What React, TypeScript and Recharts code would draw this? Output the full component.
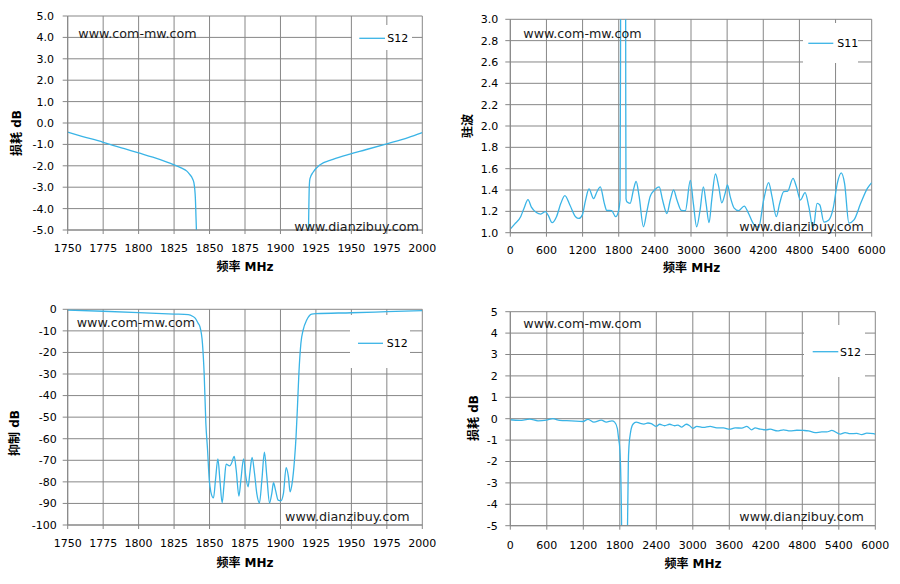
import React from 'react';
import { LineChart, Line, XAxis, YAxis, CartesianGrid, Legend } from 'recharts';

const FONT = '"DejaVu Sans", "Noto Sans CJK SC", sans-serif';
const LINE_COLOR = '#3AB4E6';
const GRID_COLOR = '#878787';

// ---- tick sets ----
const narrowTicksX = [1750, 1775, 1800, 1825, 1850, 1875, 1900, 1925, 1950, 1975, 2000];
const wideTicksX = [0, 600, 1200, 1800, 2400, 3000, 3600, 4200, 4800, 5400, 6000];
const lossTicksY = [-5, -4, -3, -2, -1, 0, 1, 2, 3, 4, 5];
const vswrTicksY = [1.0, 1.2, 1.4, 1.6, 1.8, 2.0, 2.2, 2.4, 2.6, 2.8, 3.0];
const rejTicksY = [-100, -90, -80, -70, -60, -50, -40, -30, -20, -10, 0];

// ---- chart 1: S12 insertion loss, 1750-2000 MHz ----
const nbFreq = [
  1750, 1760, 1775, 1790, 1800, 1810, 1820, 1825, 1830, 1834,
  1836, 1838, 1839, 1840, 1840.5, 1841, 1842, 1880, 1919, 1919.7,
  1920, 1920.3, 1920.8, 1923, 1927.7, 1937, 1949, 1960, 1975, 1990,
  2000,
];
const nbLoss = [
  -0.43, -0.62, -0.9, -1.2, -1.4, -1.6, -1.83, -1.96, -2.1, -2.25,
  -2.4, -2.6, -2.8, -3.5, -4.5, -5.5, -7, null, -7, -5.2,
  -4.0, -3.0, -2.6, -2.3, -1.96, -1.7, -1.45, -1.25, -0.97, -0.68,
  -0.45,
];

// ---- chart 2: S11 VSWR, 0-6000 MHz ----
const vswrFreq = [
  0, 72, 172, 228, 294, 350, 433, 506, 583, 628,
  694, 767, 839, 906, 989, 1083, 1139, 1194, 1250, 1306,
  1383, 1439, 1494, 1561, 1600, 1683, 1750, 1794, 1822, 1830,
  1835, 1875, 1912, 1917, 1921, 1935, 1989, 2044, 2089, 2139,
  2211, 2267, 2322, 2394, 2472, 2528, 2600, 2656, 2711, 2767,
  2839, 2906, 2989, 3039, 3094, 3150, 3206, 3250, 3300, 3344,
  3406, 3461, 3511, 3567, 3606, 3650, 3717, 3789, 3883, 3956,
  4039, 4122, 4206, 4289, 4344, 4417, 4472, 4539, 4606, 4694,
  4750, 4817, 4894, 4956, 5028, 5094, 5139, 5206, 5289, 5361,
  5428, 5494, 5550, 5622, 5706, 5817, 5928, 6000,
];
const vswrValue = [
  1.034, 1.08, 1.15, 1.23, 1.31, 1.24, 1.19, 1.175, 1.197, 1.165,
  1.094, 1.15, 1.275, 1.347, 1.26, 1.15, 1.134, 1.165, 1.306, 1.41,
  1.32, 1.384, 1.43, 1.275, 1.21, 1.206, 1.15, 1.197, 1.306, 2.6,
  4.5, null, 4.5, 2.2, 1.32, 1.29, 1.275, 1.4, 1.48, 1.34,
  1.056, 1.197, 1.34, 1.4, 1.43, 1.306, 1.18, 1.306, 1.4, 1.306,
  1.21, 1.206, 1.49, 1.275, 1.056, 1.21, 1.43, 1.275, 1.094, 1.306,
  1.55, 1.43, 1.28, 1.37, 1.447, 1.34, 1.23, 1.206, 1.25, 1.18,
  1.08, 1.05, 1.306, 1.47, 1.34, 1.15, 1.275, 1.384, 1.39, 1.51,
  1.43, 1.306, 1.375, 1.244, 1.04, 1.275, 1.26, 1.1, 1.12, 1.23,
  1.46, 1.56, 1.46, 1.09, 1.12, 1.275, 1.415, 1.47,
];

// ---- chart 3: S12 rejection, 1750-2000 MHz ----
const rejFreq = [
  1750, 1775, 1800, 1825, 1835, 1838, 1840, 1842, 1843.2, 1845,
  1846.2, 1847.4, 1848.6, 1849.8, 1850.9, 1852.8, 1854.2, 1855.9, 1857.3, 1858.9,
  1860.3, 1861.7, 1864.1, 1865.5, 1867.4, 1868.8, 1870.7, 1872.1, 1874, 1875.6,
  1877.2, 1878.4, 1880, 1881.7, 1883.3, 1885.2, 1886.9, 1888.7, 1890.4, 1892.3,
  1893.9, 1895.1, 1896.5, 1898.4, 1900.2, 1902.1, 1904, 1905.6, 1906.8, 1908.2,
  1909.9, 1911, 1912, 1913, 1914.4, 1916, 1918.5, 1922, 1925, 1950,
  1975, 2000,
];
const rejValue = [
  -0.4, -0.9, -1.5, -2.2, -2.5, -3.2, -4.2, -6.5, -8, -15.8,
  -29.7, -52.8, -65.1, -79.1, -84.6, -87.4, -79.1, -69.3, -79.1, -89.7,
  -80.7, -71.8, -72.6, -71.4, -68.2, -74.5, -86.6, -79.1, -69.3, -77.6,
  -82.3, -76, -68.7, -76, -85.3, -89.7, -79.1, -66.2, -77.6, -89.7,
  -85.3, -80.4, -83.8, -88.5, -88.8, -85.3, -73.4, -77.6, -84.6, -80.7,
  -69.8, -58.9, -45, -29.7, -15.8, -9.6, -5, -2.2, -2.0, -1.6,
  -1.1, -0.6,
];

// ---- chart 4: S12 insertion loss, 0-6000 MHz ----
const wbFreq = [
  0, 153, 318, 455, 592, 701, 811, 1003, 1195, 1277,
  1375, 1496, 1578, 1671, 1715, 1760, 1781, 1797, 1815, 1831,
  1835, 1878, 1920, 1926, 1940, 1951, 1978, 2016, 2071, 2126,
  2197, 2263, 2318, 2400, 2455, 2537, 2619, 2701, 2756, 2811,
  2893, 2948, 3000, 3066, 3175, 3285, 3395, 3504, 3603, 3696,
  3805, 3888, 3970, 4025, 4107, 4205, 4271, 4392, 4490, 4600,
  4710, 4819, 4901, 5011, 5121, 5203, 5285, 5422, 5504, 5586,
  5696, 5778, 5860, 5970, 6000,
];
const wbLoss = [
  -0.05, -0.08, -0.02, -0.1, -0.07, 0.0, -0.08, -0.1, -0.13, -0.03,
  -0.16, -0.07, -0.16, -0.1, -0.16, -0.46, -0.95, -1.3, -2.5, -5.5,
  -7, null, -7, -5.2, -2.1, -1.28, -0.62, -0.26, -0.16, -0.21,
  -0.25, -0.2, -0.23, -0.36, -0.26, -0.33, -0.26, -0.33, -0.3, -0.39,
  -0.26, -0.33, -0.45, -0.36, -0.41, -0.36, -0.43, -0.43, -0.49, -0.43,
  -0.44, -0.36, -0.52, -0.43, -0.49, -0.52, -0.49, -0.57, -0.52, -0.57,
  -0.54, -0.55, -0.57, -0.65, -0.62, -0.62, -0.55, -0.72, -0.65, -0.7,
  -0.69, -0.74, -0.67, -0.7, -0.72,
];

type Pt = { f: number; v: number | null };
const build = (fs: number[], vs: (number | null)[]): Pt[] => fs.map((f, i) => ({ f, v: vs[i] }));

const fmt1 = (v: number) => v.toFixed(1);
const fmt0 = (v: number) => String(Math.round(v));

type LegendBox = { x: number; y: number; w: number; h: number; lx1: number; lx2: number; ly: number; tx: number };

type PanelProps = {
  left: number;
  top: number;
  width: number;
  height: number;
  margin: { top: number; right: number; bottom: number; left: number };
  yWidth: number;
  xTickMargin: number;
  yTickMargin: number;
  xDomain: [number, number];
  xTicks: number[];
  yDomain: [number, number];
  yTicks: number[];
  yFmt: (v: number) => string;
  data: Pt[];
  name: string;
  legend: LegendBox;
};

function Panel(p: PanelProps) {
  const tickStyle = { fontSize: 11, fill: '#000', fontFamily: FONT };
  const lg = p.legend;
  return (
    <div style={{ position: 'absolute', left: p.left, top: p.top }}>
      <LineChart width={p.width} height={p.height} data={p.data} margin={p.margin}>
        <CartesianGrid stroke={GRID_COLOR} strokeWidth={1} />
        <XAxis
          dataKey="f"
          type="number"
          domain={p.xDomain}
          ticks={p.xTicks}
          interval={0}
          allowDataOverflow
          height={30}
          tick={tickStyle}
          tickSize={4}
          tickMargin={p.xTickMargin}
          tickLine={{ stroke: GRID_COLOR }}
          axisLine={{ stroke: GRID_COLOR }}
        />
        <YAxis
          type="number"
          domain={p.yDomain}
          ticks={p.yTicks}
          interval={0}
          allowDataOverflow
          width={p.yWidth}
          tick={tickStyle}
          tickSize={5}
          tickMargin={p.yTickMargin}
          tickFormatter={p.yFmt}
          tickLine={{ stroke: GRID_COLOR }}
          axisLine={{ stroke: GRID_COLOR }}
        />
        <Legend
          layout="vertical"
          align="center"
          verticalAlign="middle"
          wrapperStyle={{ left: lg.x, top: lg.y, width: lg.w, height: lg.h, background: '#fff' }}
          content={(props: any) => {
            const item = props.payload && props.payload[0];
            return (
              <svg width={lg.w} height={lg.h} style={{ display: 'block' }}>
                <line x1={lg.lx1} x2={lg.lx2} y1={lg.ly} y2={lg.ly} stroke={LINE_COLOR} strokeWidth={1.3} />
                <text x={lg.tx} y={lg.ly} dy="0.36em" fontSize={11} fontFamily={FONT} fill="#000">
                  {item ? item.value : p.name}
                </text>
              </svg>
            );
          }}
        />
        <Line
          type="monotone"
          dataKey="v"
          name={p.name}
          stroke={LINE_COLOR}
          strokeWidth={1.3}
          dot={false}
          activeDot={false}
          connectNulls={false}
          isAnimationActive={false}
        />
      </LineChart>
    </div>
  );
}

const titleStyle: React.CSSProperties = {
  position: 'absolute',
  fontFamily: FONT,
  fontWeight: 'bold',
  fontSize: 12,
  color: '#000',
  whiteSpace: 'nowrap',
  lineHeight: '14px',
};

function XTitle({ cx, cy, text }: { cx: number; cy: number; text: string }) {
  return <div style={{ ...titleStyle, left: cx, top: cy, transform: 'translate(-50%, -50%)' }}>{text}</div>;
}
function YTitle({ cx, cy, text }: { cx: number; cy: number; text: string }) {
  return (
    <div style={{ ...titleStyle, left: cx, top: cy, transform: 'translate(-50%, -50%) rotate(-90deg)' }}>{text}</div>
  );
}
function Mark({ x, y, text }: { x: number; y: number; text: string }) {
  return (
    <div
      style={{
        position: 'absolute',
        left: x,
        top: y,
        fontFamily: FONT,
        fontSize: 12.7,
        lineHeight: '15px',
        color: '#1a1a1a',
        whiteSpace: 'nowrap',
      }}
    >
      {text}
    </div>
  );
}

export default function App() {
  return (
    <div style={{ position: 'absolute', left: 0, top: 0, width: 900, height: 584, background: '#fff', overflow: 'hidden' }}>
      <Panel
        left={0}
        top={0}
        width={450}
        height={290}
        margin={{ top: 16, right: 27.7, bottom: 30, left: 0 }}
        yWidth={67.7}
        xTickMargin={10.5}
        yTickMargin={8.7}
        xDomain={[1750, 2000]}
        xTicks={narrowTicksX}
        yDomain={[-5, 5]}
        yTicks={lossTicksY}
        yFmt={fmt1}
        data={build(nbFreq, nbLoss)}
        name="S12"
        legend={{ x: 352, y: 25, w: 60, h: 25, lx1: 7.3, lx2: 33, ly: 13.3, tx: 35.3 }}
      />
      <Panel
        left={450}
        top={0}
        width={450}
        height={290}
        margin={{ top: 19.3, right: 28.3, bottom: 27.3, left: 0 }}
        yWidth={60.3}
        xTickMargin={9.5}
        yTickMargin={7}
        xDomain={[0, 6000]}
        xTicks={wideTicksX}
        yDomain={[1, 3]}
        yTicks={vswrTicksY}
        yFmt={fmt1}
        data={build(vswrFreq, vswrValue)}
        name="S11"
        legend={{ x: 353, y: 23, w: 55, h: 40, lx1: 5.3, lx2: 30.3, ly: 20.3, tx: 34.3 }}
      />
      <Panel
        left={0}
        top={290}
        width={450}
        height={294}
        margin={{ top: 19.3, right: 27.7, bottom: 29, left: 0 }}
        yWidth={67.7}
        xTickMargin={10.5}
        yTickMargin={6}
        xDomain={[1750, 2000]}
        xTicks={narrowTicksX}
        yDomain={[-100, 0]}
        yTicks={rejTicksY}
        yFmt={fmt0}
        data={build(rejFreq, rejValue)}
        name="S12"
        legend={{ x: 350, y: 25, w: 60, h: 53, lx1: 8, lx2: 33, ly: 28.3, tx: 36.7 }}
      />
      <Panel
        left={450}
        top={290}
        width={450}
        height={294}
        margin={{ top: 21.7, right: 24.7, bottom: 28.3, left: 0 }}
        yWidth={60.3}
        xTickMargin={11.5}
        yTickMargin={7.6}
        xDomain={[0, 6000]}
        xTicks={wideTicksX}
        yDomain={[-5, 5]}
        yTicks={lossTicksY}
        yFmt={fmt0}
        data={build(wbFreq, wbLoss)}
        name="S12"
        legend={{ x: 354, y: 35, w: 61, h: 52, lx1: 8.7, lx2: 34.3, ly: 26.7, tx: 36 }}
      />

      <Mark x={78.3} y={26.2} text="www.com-mw.com" />
      <Mark x={523.3} y={25.8} text="www.com-mw.com" />
      <Mark x={76.7} y={315.2} text="www.com-mw.com" />
      <Mark x={523.3} y={315.8} text="www.com-mw.com" />
      <Mark x={294.3} y={218.8} text="www.dianzibuy.com" />
      <Mark x={739.3} y={218.5} text="www.dianzibuy.com" />
      <Mark x={285} y={508.5} text="www.dianzibuy.com" />
      <Mark x={739.3} y={508.5} text="www.dianzibuy.com" />

      <XTitle cx={245} cy={266.7} text="频率 MHz" />
      <XTitle cx={691.7} cy={268} text="频率 MHz" />
      <XTitle cx={245} cy={562.7} text="频率 MHz" />
      <XTitle cx={693} cy={564} text="频率 MHz" />
      <YTitle cx={16.7} cy={133.3} text="损耗 dB" />
      <YTitle cx={468.3} cy={125.8} text="驻波" />
      <YTitle cx={15} cy={432.5} text="抑制 dB" />
      <YTitle cx={474.3} cy={418.3} text="损耗 dB" />
    </div>
  );
}
